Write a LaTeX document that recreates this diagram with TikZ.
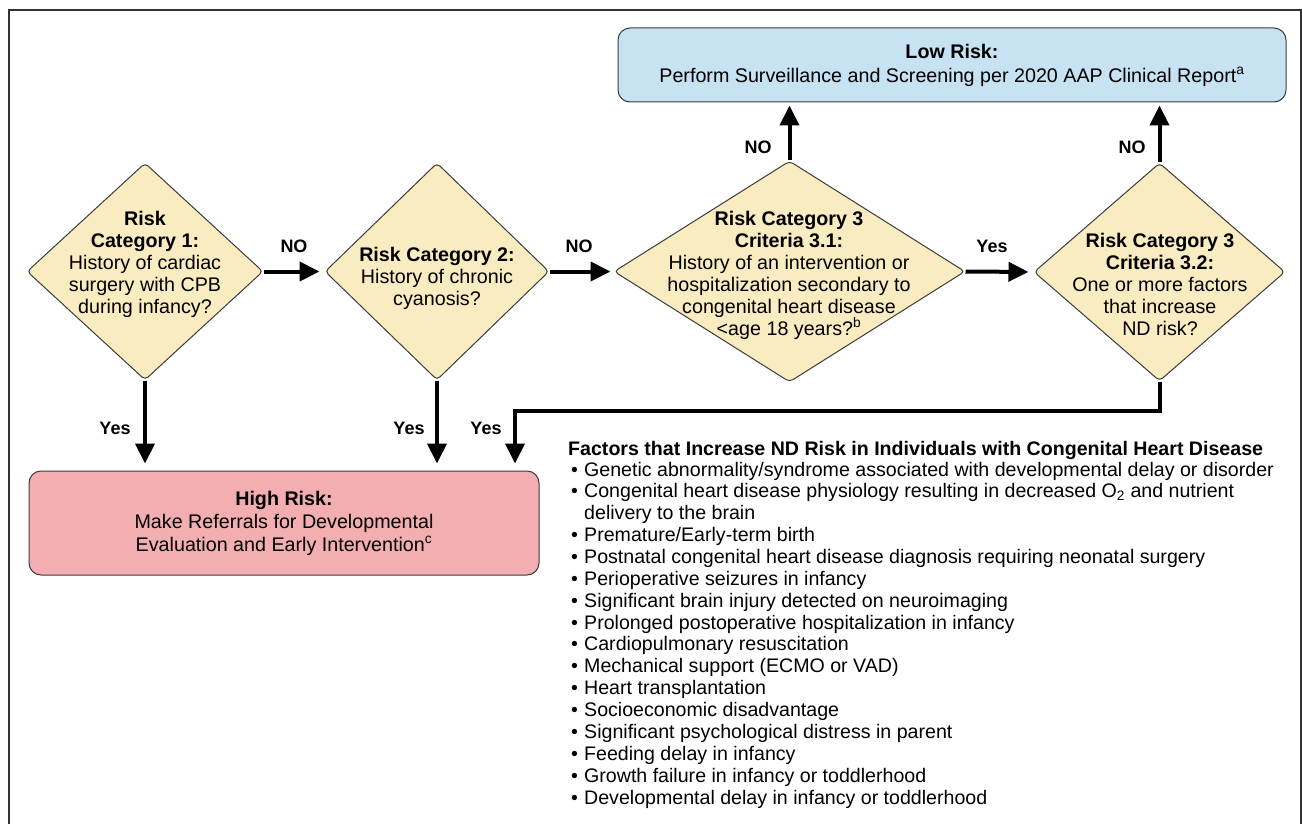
\documentclass[tikz,border=0pt]{standalone}
\usepackage{fontspec}
\setmainfont{Liberation Sans}
\usetikzlibrary{shapes.geometric,arrows.meta}
\definecolor{dfill}{RGB}{250,236,193}
\definecolor{lowfill}{RGB}{199,227,243}
\definecolor{highfill}{RGB}{242,174,176}
\definecolor{edgec}{RGB}{60,60,60}
\definecolor{framec}{RGB}{50,50,50}
\newcommand\itembul{\makebox[16pt][l]{\hspace{3pt}•}}
\newcommand\itemcont{\hspace{16pt}}
\begin{document}
\begin{tikzpicture}[x=1pt,y=-1pt,
  dia/.style={diamond, draw=edgec, line width=1pt, fill=dfill, rounded corners=4pt, inner sep=0pt},
  rbox/.style={rectangle, draw=edgec, line width=1pt, rounded corners=12pt, inner sep=0pt},
  txt/.style={align=center, font=\fontsize{19.7}{22}\selectfont, inner sep=0pt},
  lab/.style={font=\fontsize{18}{20}\selectfont\bfseries, inner sep=0pt},
  arr/.style={line width=4pt, -{Triangle[length=20pt,width=19pt]}},
  listline/.style={anchor=base west, inner sep=0pt, font=\fontsize{19.6}{22}\selectfont}
]
\useasboundingbox (0,0) rectangle (1302,824);
\fill[white] (0,0) rectangle (1302,824);
\draw[framec, line width=2.5pt] (9,824) -- (9,10) -- (1301,10) -- (1301,824);

% boxes
\node[rbox, fill=lowfill, minimum width=668pt, minimum height=74pt] (low) at (952,65) {};
\node[rbox, fill=highfill, minimum width=510pt, minimum height=104pt] (high) at (284,523) {};
\node[txt] (lowt) at (952,65) {\textbf{Low Risk:}\\[2pt]Perform Surveillance and Screening per 2020 AAP Clinical Report\textsuperscript{a}};
\node[txt] (hight) at (284,523) {\textbf{High Risk:}\\[1pt]Make Referrals for Developmental\\[1pt]Evaluation and Early Intervention\textsuperscript{c}};

% diamonds
\node[dia, minimum width=236pt, minimum height=217pt] (d1) at (145,271.5) {};
\node[dia, minimum width=224pt, minimum height=217pt] (d2) at (437,271.5) {};
\node[dia, minimum width=351pt, minimum height=221pt] (d3) at (789.5,271.5) {};
\node[dia, minimum width=251pt, minimum height=218pt] (d4) at (1159.5,272) {};

\node[txt] (t1) at (145,264) {\textbf{Risk}\\\textbf{Category 1:}\\History of cardiac\\surgery with CPB\\during infancy?};
\node[txt] (t2) at (437,278) {\textbf{Risk Category 2:}\\History of chronic\\cyanosis?};
\node[txt] (t3) at (789,275) {\textbf{Risk Category 3}\\\textbf{Criteria 3.1:}\\History of an intervention or\\hospitalization secondary to\\congenital heart disease\\<age 18 years?\textsuperscript{b}};
\node[txt] (t4) at (1160,284) {\textbf{Risk Category 3}\\\textbf{Criteria 3.2:}\\One or more factors\\that increase\\ND risk?};

% connectors
\draw[arr, shorten >=5pt] (d1.east) -- (d2.west);
\draw[arr, shorten >=3pt] (d2.east) -- (d3.west);
\draw[arr, shorten >=5pt] (d3.east) -- (d4.west);
\draw[arr, shorten >=3pt] (d3.north) -- (d3.north |- low.south);
\draw[arr, shorten >=3pt] (d4.north) -- (d4.north |- low.south);
\draw[arr, shorten >=7pt] (d1.south) -- (d1.south |- high.north);
\draw[arr, shorten >=7pt] (d2.south) -- (d2.south |- high.north);
\coordinate (bend) at (515,411);
\draw[arr, shorten >=7pt] (d4.south) |- (bend) -- (bend |- high.north);

% labels
\node[lab] (no1) at (294,246) {NO};
\node[lab] (no2) at (579,246) {NO};
\node[lab] (yes3) at (992,246.5) {Yes};
\node[lab] (no3) at (758,147) {NO};
\node[lab] (no4) at (1132,147) {NO};
\node[lab] (y1) at (115,428) {Yes};
\node[lab] (y2) at (409,428) {Yes};
\node[lab] (y3) at (486,428) {Yes};

% factors list
\node[listline, font=\fontsize{19.6}{22}\selectfont\bfseries] (fh) at (568,455) {Factors that Increase ND Risk in Individuals with Congenital Heart Disease};
\foreach \t [count=\i from 0] in {
  {\itembul Genetic abnormality/syndrome associated with developmental delay or disorder},
  {\itembul Congenital heart disease physiology resulting in decreased O\textsubscript{2} and nutrient},
  {\itemcont delivery to the brain},
  {\itembul Premature/Early-term birth},
  {\itembul Postnatal congenital heart disease diagnosis requiring neonatal surgery},
  {\itembul Perioperative seizures in infancy},
  {\itembul Significant brain injury detected on neuroimaging},
  {\itembul Prolonged postoperative hospitalization in infancy},
  {\itembul Cardiopulmonary resuscitation},
  {\itembul Mechanical support (ECMO or VAD)},
  {\itembul Heart transplantation},
  {\itembul Socioeconomic disadvantage},
  {\itembul Significant psychological distress in parent},
  {\itembul Feeding delay in infancy},
  {\itembul Growth failure in infancy or toddlerhood},
  {\itembul Developmental delay in infancy or toddlerhood}}
  \node[listline] (f\i) at (568,{476+21.87*\i}) {\t};
\end{tikzpicture}
\end{document}
